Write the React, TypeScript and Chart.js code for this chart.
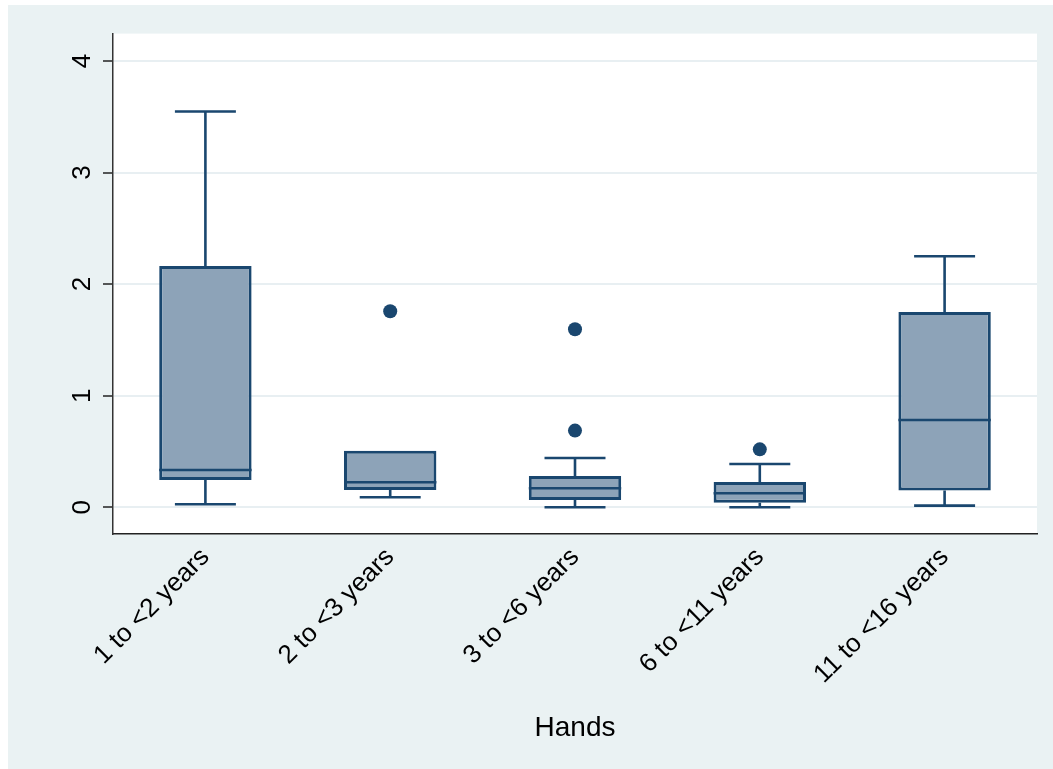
import React, { useEffect, useRef } from "react";
import { Chart, registerables } from "chart.js";

Chart.register(...registerables);

// Age groups along the x axis
const categories = [
  "1 to <2 years",
  "2 to <3 years",
  "3 to <6 years",
  "6 to <11 years",
  "11 to <16 years",
];

// Box plot summaries per age group
const lowerWhisker = [0.027, 0.09, 0.0, 0.0, 0.014];
const q1 = [0.244, 0.155, 0.065, 0.041, 0.149];
const median = [0.334, 0.224, 0.17, 0.125, 0.782];
const q3 = [2.163, 0.507, 0.28, 0.226, 1.751];
const upperWhisker = [3.548, 0.507, 0.441, 0.388, 2.25];

// Points beyond the whiskers
const outliers: number[][] = [[], [1.757], [1.595, 0.687], [0.519], []];

// Value axis
const yTicks = [0, 1, 2, 3, 4];
const yMin = -0.24;
const yMax = 4.246;

const NAVY = "#1A476F";
const BOX_FILL = "#8DA3B8";
const PANEL_BG = "#EAF2F3";
const FONT = "'Liberation Sans', Arial, sans-serif";

const W = 1045;
const H = 764;

const backgroundPlugin = {
  id: "panelBackground",
  beforeDraw(chart: any) {
    const { ctx, chartArea } = chart;
    ctx.save();
    ctx.fillStyle = PANEL_BG;
    ctx.fillRect(0, 0, chart.width, chart.height);
    ctx.fillStyle = "#FFFFFF";
    ctx.fillRect(
      chartArea.left,
      chartArea.top,
      chartArea.right - chartArea.left,
      chartArea.bottom - chartArea.top
    );
    ctx.restore();
  },
};

// Whiskers, caps and medians drawn on top of the floating-bar boxes
const boxPlotPlugin = {
  id: "boxWhiskers",
  afterDatasetsDraw(chart: any) {
    const { ctx } = chart;
    const meta = chart.getDatasetMeta(0);
    const yScale = chart.scales.y;
    ctx.save();
    ctx.strokeStyle = NAVY;
    ctx.lineWidth = 2.6;
    ctx.lineCap = "butt";
    meta.data.forEach((bar: any, i: number) => {
      const cx = bar.x;
      const half = bar.width / 2;
      const capHalf = half * 0.66;
      const yQ1 = yScale.getPixelForValue(q1[i]);
      const yQ3 = yScale.getPixelForValue(q3[i]);
      const yLo = yScale.getPixelForValue(lowerWhisker[i]);
      const yHi = yScale.getPixelForValue(upperWhisker[i]);
      const yMed = yScale.getPixelForValue(median[i]);

      ctx.beginPath();
      // upper whisker and cap
      if (upperWhisker[i] > q3[i]) {
        ctx.moveTo(cx, yQ3);
        ctx.lineTo(cx, yHi);
        ctx.moveTo(cx - capHalf, yHi);
        ctx.lineTo(cx + capHalf, yHi);
      }
      // lower whisker and cap
      if (lowerWhisker[i] < q1[i]) {
        ctx.moveTo(cx, yQ1);
        ctx.lineTo(cx, yLo);
        ctx.moveTo(cx - capHalf, yLo);
        ctx.lineTo(cx + capHalf, yLo);
      }
      // median
      ctx.moveTo(cx - half, yMed);
      ctx.lineTo(cx + half, yMed);
      ctx.stroke();
    });
    ctx.restore();
  },
};

export default function App() {
  const canvasRef = useRef<HTMLCanvasElement | null>(null);

  useEffect(() => {
    if (!canvasRef.current) return;

    const boxData = categories.map((_, i) => [q1[i], q3[i]]);
    const outlierData: { x: string; y: number }[] = [];
    outliers.forEach((vals, i) =>
      vals.forEach((v) => outlierData.push({ x: categories[i], y: v }))
    );

    const chart = new Chart(canvasRef.current, {
      type: "bar",
      data: {
        labels: categories,
        datasets: [
          {
            type: "bar",
            data: boxData as any,
            backgroundColor: BOX_FILL,
            borderColor: NAVY,
            borderWidth: 3,
            borderSkipped: false,
            barPercentage: 0.5,
            categoryPercentage: 1.0,
            order: 2,
          },
          {
            type: "line",
            data: outlierData as any,
            showLine: false,
            pointRadius: 7,
            pointBackgroundColor: NAVY,
            pointBorderColor: NAVY,
            pointBorderWidth: 0,
            order: 1,
          } as any,
        ],
      },
      options: {
        responsive: false,
        animation: false,
        events: [],
        layout: { padding: { top: 28, right: 16, left: 0, bottom: 0 } },
        plugins: {
          legend: { display: false },
          tooltip: { enabled: false },
        },
        scales: {
          x: {
            type: "category",
            offset: true,
            grid: { display: false, drawTicks: false },
            border: { display: true, color: "#222222", width: 1.5 },
            ticks: {
              autoSkip: false,
              minRotation: 45,
              maxRotation: 45,
              padding: 8,
              color: "#000000",
              font: { family: FONT, size: 26 },
            },
            title: {
              display: true,
              text: "Hands",
              color: "#000000",
              font: { family: FONT, size: 28 },
              padding: { top: 0, bottom: 24 },
            },
            afterFit(scale: any) {
              scale.height = 235;
            },
          },
          y: {
            type: "linear",
            min: yMin,
            max: yMax,
            afterBuildTicks(scale: any) {
              scale.ticks = yTicks.map((v) => ({ value: v }));
            },
            grid: {
              color: "#E8EFF2",
              lineWidth: 2,
              drawTicks: true,
              tickLength: 10,
              tickColor: "#222222",
              tickWidth: 1.5,
            },
            border: { display: true, color: "#333333", width: 1.5 },
            ticks: {
              minRotation: 90,
              maxRotation: 90,
              crossAlign: "center",
              padding: 13,
              color: "#000000",
              font: { family: FONT, size: 26 },
              callback: (v: any) => String(v),
            },
            afterFit(scale: any) {
              scale.width = 105;
            },
          },
        },
      },
      plugins: [backgroundPlugin, boxPlotPlugin],
    });

    return () => chart.destroy();
  }, []);

  return (
    <div style={{ position: "absolute", left: 8, top: 5, width: W, height: H }}>
      <canvas ref={canvasRef} width={W} height={H} style={{ width: W, height: H }} />
    </div>
  );
}
